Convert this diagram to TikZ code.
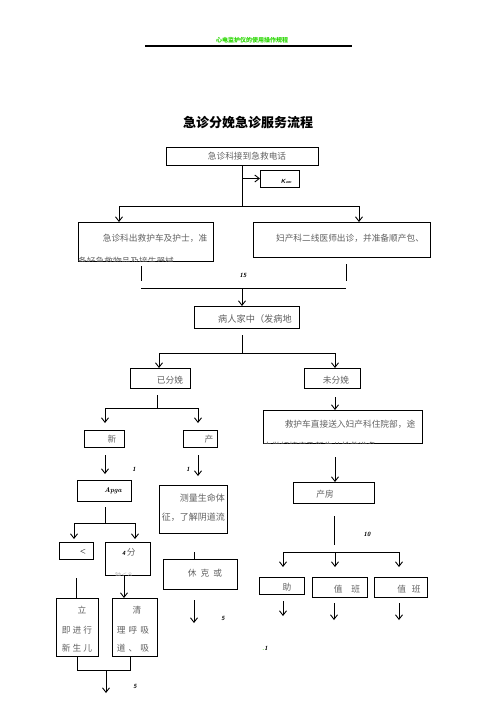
\documentclass[tikz,border=0pt]{standalone}
\usepackage{fontspec}
\newfontfamily\cjk{Noto Sans CJK SC}
\usetikzlibrary{arrows.meta}
\definecolor{txt}{gray}{0.38}
\definecolor{hdrgreen}{RGB}{40,215,0}
\tikzset{
 bx/.style={draw, line width=0.8pt, inner sep=0pt, outer sep=0pt},
 ln/.style={line width=0.8pt},
 ar/.style={line width=0.9pt, -{Straight Barb[length=4.5pt,width=7pt,line width=0.9pt]}},
 tx/.style={inner sep=0pt, text=txt, font=\cjk\fontsize{8.7}{10}\selectfont},
 lab/.style={inner sep=0pt, font=\sffamily\bfseries\itshape\fontsize{6}{7}\selectfont},
}
\newcommand\bx[5]{\node[bx, minimum width={(#4)-(#2)}, minimum height={(#5)-(#3)}] (#1) at ({((#2)+(#4))/2},{((#3)+(#5))/2}) {};}
\begin{document}
\begin{tikzpicture}[x=1pt,y=-1pt]
\useasboundingbox (0,0) rectangle (496,702);
% header
\node[inner sep=0pt, text=hdrgreen, font=\cjk\bfseries\fontsize{6}{7}\selectfont] (hdr) at (252,40) {心电监护仪的使用操作规程};
\coordinate (hl) at (145,46); \coordinate (hr) at (352,46);
\draw[line width=1.1pt] (hl) -- (hr);
\node[inner sep=0pt, font=\cjk\bfseries\fontsize{13}{15}\selectfont] (title) at (248,123) {急诊分娩急诊服务流程};
% top
\bx{b1}{166}{147}{318}{165}
\node[tx] (t1) at (247,156) {急诊科接到急救电话};
\bx{kan}{260}{170}{299}{187}
\node[lab] (tk) at (286,181) {K\kern0.3pt{\fontsize{4}{5}\selectfont am}};
\coordinate (j1) at (242,206);
\coordinate (k0) at (242,178.5);
\draw[ln] (b1.south) -- (j1);
\draw[ar] (k0) -- (kan.west);
\coordinate (jl) at (119,206); \coordinate (jr) at (359,206);
\draw[ln] (jl) -- (jr);
\bx{b2}{78}{222}{213}{261}
\bx{b3}{253}{222}{430}{257}
\draw[ar] (jl) -- (jl |- b2.north);
\draw[ar] (jr) -- (jr |- b3.north);
\node[tx] (t2) at (155,238) {急诊科出救护车及护士，准};
\begin{scope}
\clip (b2.south west) rectangle (b2.north east);
\node[tx, anchor=west] (t2b) at (78,261.5) {备好急救物品及接生器械};
\end{scope}
\node[tx] (t3) at (350,238) {妇产科二线医师出诊，并准备顺产包、};
% merge
\coordinate (s1a) at (141,266); \coordinate (s1b) at (141,281);
\coordinate (s2a) at (346,264); \coordinate (s2b) at (346,281);
\draw[ln] (s1a) -- (s1b);
\draw[ln] (s2a) -- (s2b);
\node[lab] (l15) at (243,275) {15};
\coordinate (m1) at (141,288); \coordinate (m2) at (346,288); \coordinate (m0) at (242,288);
\draw[ln] (m1) -- (m2);
\bx{b4}{194}{306}{299}{328}
\draw[ar] (m0) -- (m0 |- b4.north);
\node[tx, font=\cjk\fontsize{9.2}{10}\selectfont] (t4) at (255,319) {病人家中（发病地};
\coordinate (v4a) at (242,335); \coordinate (v4b) at (242,353);
\draw[ln] (v4a) -- (v4b);
\coordinate (h4l) at (159,353); \coordinate (h4r) at (335,353);
\draw[ln] (h4l) -- (h4r);
\bx{b5}{130}{368}{190}{388}
\bx{b6}{304}{368}{360}{388}
\draw[ar] (h4l) -- (h4l |- b5.north);
\draw[ar] (h4r) -- (h4r |- b6.north);
\node[tx] (t5) at (170,380) {已分娩};
\node[tx] (t6) at (336,380) {未分娩};
% left branch
\coordinate (v5a) at (157,395); \coordinate (v5b) at (157,408);
\draw[ln] (v5a) -- (v5b);
\coordinate (h5l) at (105,408); \coordinate (h5r) at (198,408);
\draw[ln] (h5l) -- (h5r);
\coordinate (a5l) at (105,423); \coordinate (a5r) at (198,423);
\draw[ar] (h5l) -- (a5l);
\draw[ar] (h5r) -- (a5r);
\bx{b7}{84}{430}{124}{447}
\bx{b8}{183}{430}{217}{447}
\node[tx] (t7) at (112,439) {新};
\node[tx] (t8) at (209,439) {产};
\coordinate (a7a) at (105,455); \coordinate (a7b) at (105,474);
\coordinate (a8a) at (198,455); \coordinate (a8b) at (198,476);
\draw[ar] (a7a) -- (a7b);
\draw[ar] (a8a) -- (a8b);
\node[lab] (l1a) at (134,469) {1};
\node[lab] (l1b) at (188,469) {1};
\bx{b9}{77}{480}{131}{501}
\node[inner sep=0pt, font=\bfseries\itshape\fontsize{7}{8}\selectfont] (t9) at (113,491) {Apga};
\bx{b10}{159}{485}{227}{533}
\node[tx, font=\cjk\fontsize{9}{10}\selectfont, anchor=east] (t10a) at (225,498) {测量生命体};
\node[tx, font=\cjk\fontsize{9}{10}\selectfont, anchor=east] (t10b) at (225,517) {征，了解阴道流};
\coordinate (v9a) at (105,507); \coordinate (v9b) at (105,523);
\draw[ln] (v9a) -- (v9b);
\coordinate (h9l) at (74,523); \coordinate (h9r) at (135,523);
\draw[ln] (h9l) -- (h9r);
\coordinate (a9l) at (74,539); \coordinate (a9r) at (135,539);
\draw[ar] (h9l) -- (a9l);
\draw[ar] (h9r) -- (a9r);
\bx{b11}{59}{542}{93}{559}
\bx{b12}{105}{542}{150}{575}
\node[inner sep=0pt, font=\bfseries\fontsize{7}{8}\selectfont] (t11) at (83,552) {<};
\node[tx, anchor=west] (t12) at (122,552) {{\color{black}\sffamily\bfseries\itshape\fontsize{6}{7}\selectfont 4}\,分};
\begin{scope}
\clip (b12.south west) rectangle (b12.north east);
\node[tx, font=\cjk\fontsize{6}{7}\selectfont, text=gray!60] (t12b) at (124,575.5) {钟＜８};
\end{scope}
\bx{b13}{163}{559}{237}{589}
\coordinate (st13) at (194,552);
\draw[ln] (st13) -- (st13 |- b13.north);
\node[tx] (t13) at (205,573) {休\hspace{4pt}克\hspace{4pt}或};
\bx{b14}{56}{598}{98}{656}
\bx{b15}{112}{598}{157}{656}
\coordinate (v11a) at (76,578);
\draw[ln] (v11a) -- (v11a |- b14.north);
\coordinate (a12a) at (124,575);
\draw[ar] (a12a) -- (a12a |- b15.north);
\node[tx] (t14a) at (82,610) {立};
\node[tx] (t14b) at (77,630) {即\hspace{2pt}进\hspace{2pt}行};
\node[tx] (t14c) at (77,648) {新\hspace{2pt}生\hspace{2pt}儿};
\node[tx] (t15a) at (137,610) {清};
\node[tx] (t15b) at (133,630) {理\hspace{3pt}呼\hspace{3pt}吸};
\node[tx] (t15c) at (133,648) {道\hspace{3pt}、\hspace{3pt}吸};
\coordinate (j14) at (77,670); \coordinate (j15) at (130,670); \coordinate (j0) at (106,670);
\draw[ln] (b14.south -| j14) -- (j14) -- (j15) -- (b15.south -| j15);
\coordinate (a0) at (106,693);
\draw[ar] (j0) -- (a0);
\node[lab] (l5a) at (135,686) {5};
\coordinate (a13a) at (194,600); \coordinate (a13b) at (194,623);
\draw[ar] (a13a) -- (a13b);
\node[lab] (l5b) at (223,618) {5};
% right branch
\coordinate (a6a) at (335,397);
\bx{b16}{263}{410}{422}{443}
\draw[ar] (a6a) -- (a6a |- b16.north);
\node[tx] (t16) at (350,424) {救护车直接送入妇产科住院部，途};
\begin{scope}
\clip (b16.south west) rectangle (b16.north east);
\node[tx, anchor=west] (t16b) at (263,446.5) {中做好接产及新生儿抢救准备};
\end{scope}
\coordinate (a16a) at (335,457);
\bx{b17}{293}{482}{374}{503}
\draw[ar] (a16a) -- (a16a |- b17.north);
\node[tx] (t17) at (325,494) {产房};
\coordinate (v17a) at (334,516); \coordinate (v17b) at (334,545);
\draw[ln] (v17a) -- (v17b);
\node[lab] (l10) at (367,534) {10};
\coordinate (h17l) at (283,552); \coordinate (h17m) at (335,552); \coordinate (h17r) at (399,552);
\draw[ln] (h17l) -- (h17r);
\bx{b18}{259}{577}{304}{594}
\bx{b19}{312}{577}{367}{597}
\bx{b20}{374}{577}{427}{597}
\coordinate (a18) at (283,567); \coordinate (a19) at (335,567); \coordinate (a20) at (399,567);
\draw[ar] (h17l) -- (a18);
\draw[ar] (h17m) -- (a19);
\draw[ar] (h17r) -- (a20);
\node[tx] (t18) at (287,587) {助};
\node[tx] (t19) at (347,589) {值\hspace{9pt}班};
\node[tx] (t20) at (409,589) {值\hspace{6pt}班};
\coordinate (b18a) at (283,601); \coordinate (b18b) at (283,616);
\coordinate (b19a) at (334,603); \coordinate (b19b) at (334,620);
\coordinate (b20a) at (399,603); \coordinate (b20b) at (399,620);
\draw[ar] (b18a) -- (b18b);
\draw[ar] (b19a) -- (b19b);
\draw[ar] (b20a) -- (b20b);
\node[lab] (l1c) at (265,648) {{\color{hdrgreen}.}1};
\end{tikzpicture}
\end{document}
